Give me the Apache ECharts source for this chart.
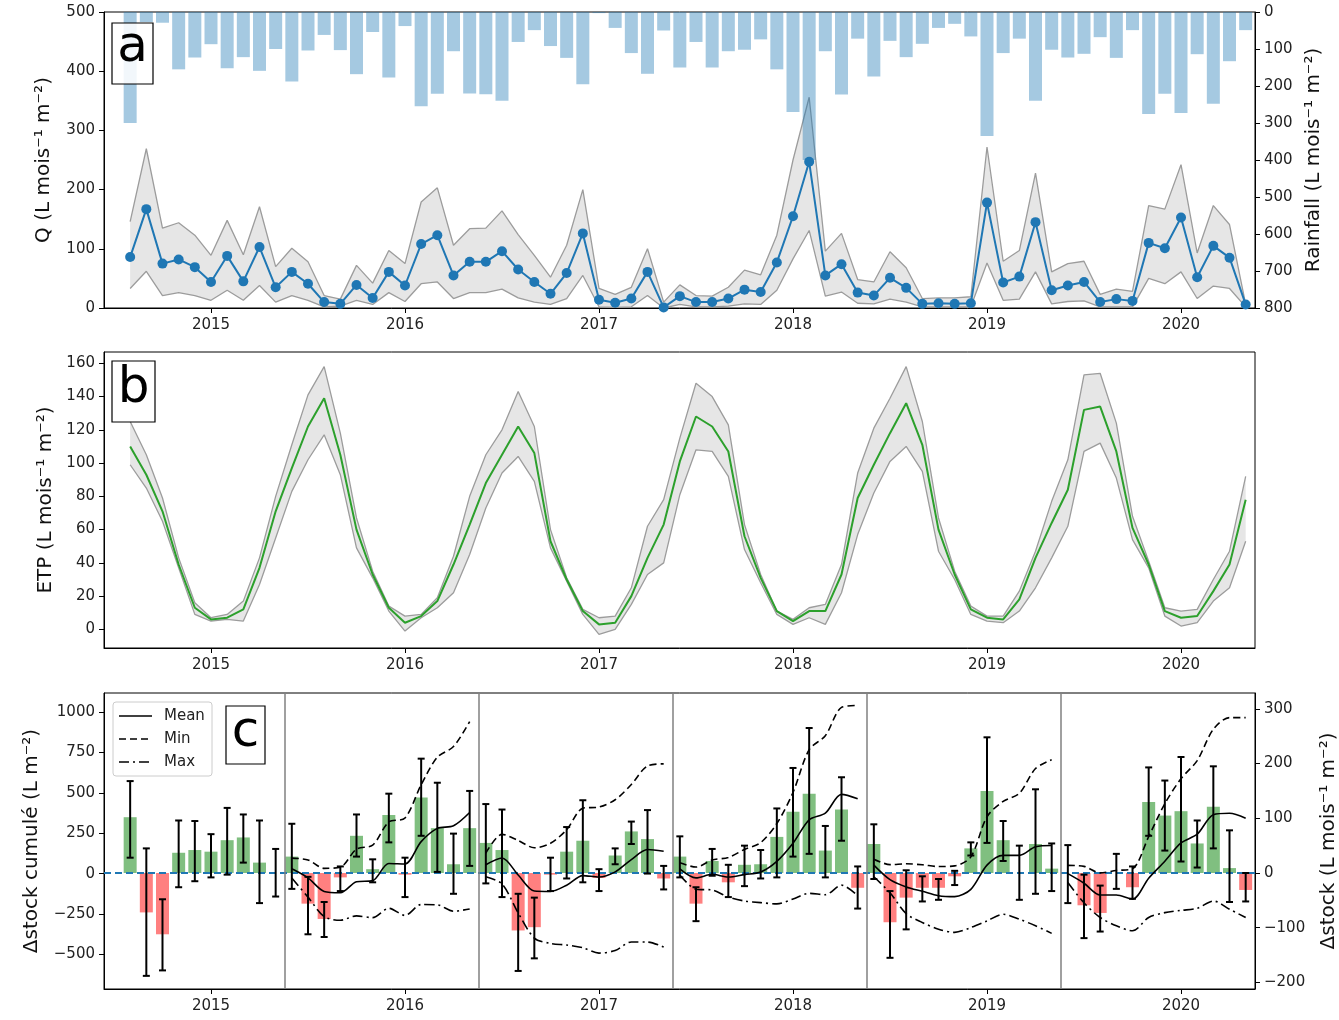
<!DOCTYPE html>
<html><head><meta charset="utf-8">
<script src="https://cdn.jsdelivr.net/npm/echarts@6/dist/echarts.min.js"></script>
<style>html,body{margin:0;padding:0;background:#fff}#c{width:1339px;height:1020px}</style>
</head><body><div id="c"></div>
<script>
// ---------- DATA ----------
const firstMonth = '2014-08';
const nMonths = 70; // Aug 2014 .. May 2020
const yearTicks = [2015, 2016, 2017, 2018, 2019, 2020];

// Panel a : discharge Q (mean / min / max) and rainfall
const qMean = [86,167,75,82,69,
  44,88,45,103,35,61,41,10,7,39,17,61,
  38,108,123,55,78,78,96,65,44,24,59,126,
  14,9,16,61,1,20,10,10,16,31,27,77,
  155,247,55,74,26,21,51,34,7,8,7,8,
  178,43,53,145,30,38,44,10,15,12,110,101,
  153,52,105,85,6];
const qMax = [146,269,135,144,123,
  89,148,90,171,70,101,78,21,15,72,42,97,
  75,179,203,106,134,135,164,124,89,52,106,200,
  33,23,35,100,10,39,21,20,35,64,56,123,
  250,356,96,126,48,44,95,68,16,17,17,19,
  272,79,97,228,61,75,79,23,32,28,173,167,
  242,93,173,141,6];
const qMin = [33,62,21,26,21,
  13,30,13,38,10,21,13,2,3,13,6,26,
  11,41,44,16,26,26,32,17,10,6,16,55,
  2,1,2,21,0,6,2,2,3,7,6,30,
  83,131,20,27,8,7,15,10,2,2,2,2,
  76,13,15,61,7,11,12,2,2,2,50,41,
  61,16,37,33,2];
const rain = [300,27,29,155,123,
  87,152,122,159,100,188,104,62,103,168,54,177,
  38,255,221,106,220,222,240,81,49,92,124,195,
  3,43,111,167,50,150,81,150,106,102,74,155,
  270,400,106,223,72,174,78,122,86,43,32,66,
  335,111,72,240,102,123,113,68,124,49,276,221,
  273,114,248,133,49];

// Panel b : ETP
const etpMean = [110,93,71,39,13,
  6,7,12,37,71,97,122,139,105,60,33,13,
  4,8,17,39,63,88,105,122,106,53,30,11,
  3,4,20,43,63,101,128,122,107,56,31,11,
  5,11,11,33,79,99,118,136,111,60,33,12,
  7,6,18,43,64,84,132,134,107,61,39,11,
  7,8,23,39,78];
const etpMax = [125,105,79,43,16,
  7,9,17,43,80,111,141,158,118,67,35,14,
  8,9,19,44,80,105,120,143,122,60,31,12,
  7,8,25,62,78,115,148,140,123,63,33,11,
  6,13,15,39,94,121,139,158,125,67,35,14,
  8,8,23,47,77,102,153,154,124,68,41,13,
  11,12,30,47,92];
const etpMin = [99,85,65,37,9,
  5,6,5,27,55,83,102,117,93,49,31,11,
  -1,7,13,22,45,73,94,104,89,49,29,9,
  -3,0,15,33,40,81,108,107,92,48,28,9,
  3,7,3,22,57,82,101,110,95,47,30,9,
  5,4,11,25,43,62,107,112,91,54,37,8,
  2,4,17,25,53];

// Panel c : monthly storage change with error bars
const dStock = [102,-72,-112,37,42,
  39,60,65,19,0,30,-56,-84,-8,68,7,106,
  -3,138,82,16,82,55,42,-105,-99,-3,39,59,
  -9,32,76,62,-10,30,-56,22,-17,15,16,66,
  112,145,41,116,-27,53,-90,-45,-27,-27,-6,45,
  150,60,0,53,8,0,-59,-73,0,-26,130,105,
  113,54,121,9,-31];
const dStockHi = [168,45,-48,96,95,
  71,119,107,96,44,90,-7,-53,12,107,25,145,
  28,209,165,72,150,126,116,-38,-45,28,84,133,
  7,45,94,115,13,67,-26,44,15,50,42,118,
  192,265,86,175,12,89,-33,5,-6,-11,4,56,
  248,95,50,153,54,51,-3,-23,35,12,193,169,
  212,96,195,78,0];
const dStockLo = [28,-188,-178,-26,-15,
  -8,-3,19,-55,-43,-29,-112,-117,-33,30,-17,56,
  -44,68,2,-38,13,-19,-44,-179,-156,-33,-10,-17,
  -33,16,53,-1,-30,-8,-88,-5,-44,-24,-10,-8,
  30,35,-8,59,-65,-11,-155,-103,-52,-49,-22,32,
  55,22,-49,-38,-33,-55,-119,-107,-29,-47,68,41,
  21,10,45,-53,-52];

// Cumulative storage per hydrological year (June -> May)
const hydroStart = ['2015-06','2016-06','2017-06','2018-06','2019-06'];
const cumMean = [
  [30,-26,-110,-118,-50,-43,63,60,198,280,296,378],
  [55,97,-8,-107,-110,-71,-12,-21,11,87,149,139],
  [30,-26,-4,-21,-6,10,76,188,333,374,490,463],
  [53,-37,-82,-109,-136,-142,-97,53,113,113,166,174],
  [0,-59,-132,-132,-158,-28,77,190,244,365,374,343]];
const cumMin = [
  [96,85,33,40,152,176,320,344,550,720,786,940],
  [127,243,205,160,188,272,405,412,457,551,666,679],
  [67,41,85,100,150,192,310,502,767,853,1028,1040],
  [89,56,61,55,44,48,104,352,447,497,650,704],
  [51,45,5,20,30,229,433,587,699,893,965,965]];
const cumMax = [
  [-27,-145,-265,-288,-261,-272,-214,-258,-191,-193,-232,-218],
  [-19,-63,-242,-398,-431,-441,-458,-491,-475,-422,-423,-453],
  [-8,-96,-101,-145,-169,-179,-187,-157,-122,-130,-71,-136],
  [-19,-118,-247,-302,-343,-363,-333,-292,-251,-282,-322,-369],
  [-55,-180,-271,-322,-353,-271,-241,-227,-214,-169,-220,-271]];

// ---------- helpers ----------
const FONT = 'DejaVu Sans';
const months = [];
(function(){ let [y,m] = firstMonth.split('-').map(Number);
  for (let i=0;i<nMonths;i++){ months.push(y+'-'+String(m).padStart(2,'0')); m++; if(m>12){m=1;y++;} } })();
const toX = s => { const [y,m] = s.split('-').map(Number); return y + (m-1)/12; };
const xs = months.map(toX);
const X_MIN = 2014.4485, X_MAX = 2020.3814;
const minus = v => String(v).replace('-', '\u2212');
const pairs = arr => arr.map((v,i)=>[xs[i], v]);

function xAx(gi){
  return {type:'value', gridIndex:gi, min:X_MIN, max:X_MAX,
    axisLine:{show:true, onZero:false, lineStyle:{color:'#000', width:1}},
    axisTick:{show:true, length:5, customValues:yearTicks, lineStyle:{color:'#000'}},
    axisLabel:{customValues:yearTicks, formatter:v=>String(Math.round(v)), fontSize:15, color:'#222', margin:10, fontFamily:FONT},
    splitLine:{show:false}};
}
function yAx(gi, o){
  const ax = {type:'value', gridIndex:gi, position:o.pos||'left',
    min:o.min, max:o.max, inverse:!!o.inverse,
    name:o.name, nameLocation:'middle', nameRotate:90, nameGap:o.gap,
    nameTextStyle:{fontSize:20, color:'#111', fontFamily:FONT},
    axisLine:{show:true, onZero:false, lineStyle:{color:'#000', width:1}},
    axisTick:{show:true, length:5, lineStyle:{color:'#000'}},
    axisLabel:{fontSize:15, color:'#222', margin:9, formatter:minus, fontFamily:FONT},
    splitLine:{show:false}};
  if (o.interval) ax.interval = o.interval;
  if (o.ticks) { ax.axisTick.customValues = o.ticks; ax.axisLabel.customValues = o.ticks; }
  return ax;
}
function band(xi, yi, lo, hi){
  return {type:'custom', xAxisIndex:xi, yAxisIndex:yi, z:1, silent:true, clip:true,
    data:[[xs[0], lo[0]]],
    renderItem:(p, api)=>{
      const pts=[];
      for (let i=0;i<xs.length;i++) pts.push(api.coord([xs[i], hi[i]]));
      for (let i=xs.length-1;i>=0;i--) pts.push(api.coord([xs[i], lo[i]]));
      return {type:'polygon', shape:{points:pts}, style:{fill:'#e6e6e6', stroke:null}};
    }};
}
function edge(xi, yi, arr){
  return {type:'line', xAxisIndex:xi, yAxisIndex:yi, data:pairs(arr), showSymbol:false, silent:true, z:2,
    lineStyle:{color:'#9c9c9c', width:1.3}};
}

const series = [];
// Panel a
series.push(band(0,0,qMin,qMax), edge(0,0,qMax), edge(0,0,qMin));
series.push({type:'bar', xAxisIndex:0, yAxisIndex:1, data:pairs(rain), barWidth:13, z:3,
  itemStyle:{color:'#1f77b4', opacity:0.4}, silent:true});
series.push({type:'line', xAxisIndex:0, yAxisIndex:0, data:pairs(qMean), z:4,
  symbol:'circle', symbolSize:10, showSymbol:true,
  itemStyle:{color:'#1f77b4'}, lineStyle:{color:'#1f77b4', width:2}});
// Panel b
series.push(band(1,2,etpMin,etpMax), edge(1,2,etpMax), edge(1,2,etpMin));
series.push({type:'line', xAxisIndex:1, yAxisIndex:2, data:pairs(etpMean), z:4, showSymbol:false,
  lineStyle:{color:'#2ca02c', width:2}});
// Panel c
const dividers = hydroStart.map(s => toX(s) - 0.5/12);
series.push({type:'bar', xAxisIndex:2, yAxisIndex:4, data:pairs(dStock), barWidth:13, z:2,
  itemStyle:{color:p => p.value[1] >= 0 ? '#80bf80' : '#ff8080'},
  markLine:{symbol:'none', silent:true, label:{show:false}, z:3,
    data:[{yAxis:0, lineStyle:{color:'#1f77b4', width:2, type:[7,4]}}]
      .concat(dividers.map(x=>({xAxis:x, lineStyle:{color:'#808080', width:1.5, type:'solid'}})))}});
series.push({type:'custom', xAxisIndex:2, yAxisIndex:4, z:5, silent:true,
  data:dStockLo.map((lo,i)=>[xs[i], lo, dStockHi[i]]),
  encode:{x:0, y:[1,2]},
  renderItem:(p, api)=>{
    const x=api.value(0), a=api.coord([x, api.value(1)]), b=api.coord([x, api.value(2)]), cw=3.5;
    const st={stroke:'#000', lineWidth:2};
    return {type:'group', children:[
      {type:'line', shape:{x1:a[0],y1:a[1],x2:b[0],y2:b[1]}, style:st},
      {type:'line', shape:{x1:a[0]-cw,y1:a[1],x2:a[0]+cw,y2:a[1]}, style:st},
      {type:'line', shape:{x1:b[0]-cw,y1:b[1],x2:b[0]+cw,y2:b[1]}, style:st}]};
  }});
const cumStyles = [[cumMean,'solid'],[cumMin,[7,4]],[cumMax,[10,4,2,4]]];
cumStyles.forEach(([sets, type])=>{
  sets.forEach((vals, k)=>{
    const i0 = months.indexOf(hydroStart[k]);
    series.push({type:'line', xAxisIndex:2, yAxisIndex:3, z:6, showSymbol:false, silent:true, smooth:0.3,
      data:vals.map((v,j)=>[xs[i0+j], v]),
      lineStyle:{color:'#000', width:1.6, type}});
  });
});

function labelBox(x,y,w,h,t,ty){
  return [
    {type:'rect', z:100, shape:{x,y,width:w,height:h}, style:{fill:'rgba(255,255,255,0.85)', stroke:'#000', lineWidth:1.2}},
    {type:'text', z:101, x:x+w/2, y:ty, style:{text:t, font:'50px "DejaVu Sans"', fill:'#000', align:'center', verticalAlign:'middle'}}];
}
const legendItems = [['Mean','solid',716],['Min',[7,4],739],['Max',[10,4,2,4],762]];
const graphic = [].concat(
  labelBox(112,23,41,61,'a',48),
  labelBox(112,361,43,61,'b',389),
  labelBox(226,706,39,58,'c',733),
  [{type:'rect', z:100, shape:{x:113,y:702,width:99,height:74,r:3}, style:{fill:'rgba(255,255,255,0.85)', stroke:'#cccccc', lineWidth:1}}],
  legendItems.flatMap(([t,d,y])=>[
    {type:'line', z:101, shape:{x1:119,y1:y,x2:152,y2:y}, style:{stroke:'#000', lineWidth:1.6, lineDash:d==='solid'?null:d}},
    {type:'text', z:101, x:164, y:y, style:{text:t, font:'15px "DejaVu Sans"', fill:'#222', verticalAlign:'middle'}}])
);

const gridBase = {left:104, right:84, height:296, show:true, borderColor:'#000', borderWidth:1, containLabel:false, outerBoundsMode:'none'};
const chart = echarts.init(document.getElementById('c'), null, {renderer:'canvas'});
chart.setOption({
  animation:false,
  backgroundColor:'#fff',
  textStyle:{fontFamily:FONT},
  grid:[
    Object.assign({top:12}, gridBase),
    Object.assign({top:352}, gridBase),
    Object.assign({top:693}, gridBase)],
  xAxis:[xAx(0), xAx(1), xAx(2)],
  yAxis:[
    yAx(0,{min:0, max:500, interval:100, name:'Q (L mois\u207B\u00B9 m\u207B\u00B2)', gap:50}),
    yAx(0,{pos:'right', min:0, max:800, interval:100, inverse:true, name:'Rainfall (L mois\u207B\u00B9 m\u207B\u00B2)', gap:48}),
    yAx(1,{min:-11.2, max:166.8, ticks:[0,20,40,60,80,100,120,140,160], name:'ETP (L mois\u207B\u00B9 m\u207B\u00B2)', gap:48}),
    yAx(2,{min:-713, max:1117, ticks:[-500,-250,0,250,500,750,1000], name:'\u0394stock cumul\u00E9 (L m\u207B\u00B2)', gap:62}),
    yAx(2,{pos:'right', min:-212, max:329, ticks:[-200,-100,0,100,200,300], name:'\u0394stock (L mois\u207B\u00B9 m\u207B\u00B2)', gap:64})],
  series,
  graphic
});
</script></body></html>
